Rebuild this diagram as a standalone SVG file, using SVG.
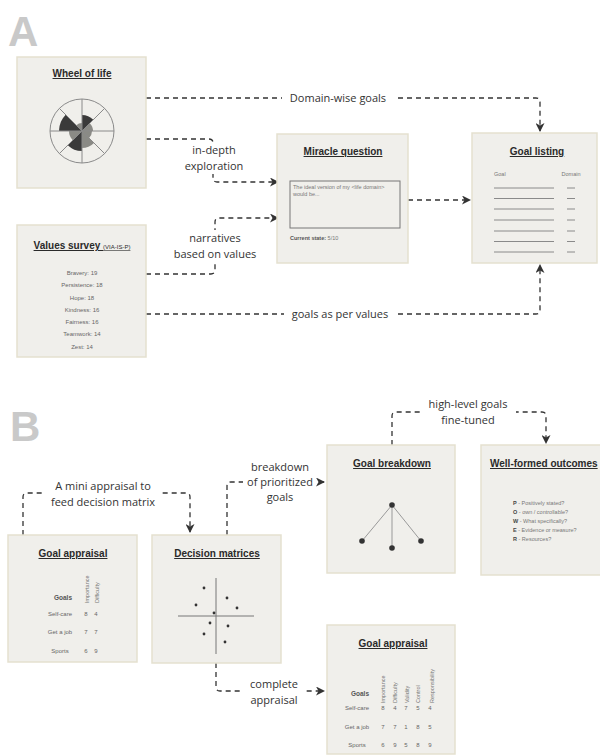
<svg xmlns="http://www.w3.org/2000/svg" width="600" height="755" viewBox="0 0 600 755">
<style>
.box{fill:#f0efeb;stroke:#e5e1cf;stroke-width:1.5}
.title{font-family:"Liberation Sans",Arial,sans-serif;font-weight:bold;font-size:10px;fill:#2a2a2a;text-decoration:underline}
.big{font-family:"Liberation Sans",Arial,sans-serif;font-weight:bold;font-size:42px;fill:#c9c9c9}
.lbl{font-family:"Open Sans","Noto Sans",sans-serif;font-size:11px;fill:#333;text-anchor:middle}
.sm{font-family:"Liberation Sans",Arial,sans-serif;font-size:5.5px;fill:#777}
.smb{font-family:"Liberation Sans",Arial,sans-serif;font-size:6.5px;font-weight:bold;fill:#555}
.val{font-family:"Liberation Sans",Arial,sans-serif;font-size:6px;fill:#666;text-anchor:middle}
.con{fill:none;stroke:#333;stroke-width:1.3;stroke-dasharray:5 4}
.bg{fill:#fff}
.dot{fill:#333}
.spoke{stroke:#8a8a8a;stroke-width:1;fill:none}
.gl{stroke:#8a8a8a;stroke-width:1}
</style>
<defs>
<marker id="arr" markerUnits="userSpaceOnUse" markerWidth="9" markerHeight="9" refX="8" refY="4.5" orient="auto">
<path d="M0,0 L9,4.5 L0,9 L2.5,4.5 z" fill="#333"/>
</marker>
</defs>
<rect width="600" height="755" fill="#fff"/>
<text class="big" x="8" y="46">A</text>
<text class="big" x="10" y="441">B</text>

<g id="connectors">
<path class="con" d="M146,98 H536 Q540,98 540,102 V131" marker-end="url(#arr)"/>
<rect class="bg" x="282" y="91" width="112" height="14"/>
<text class="lbl" x="338" y="102">Domain-wise goals</text>

<path class="con" d="M146,139 H209 Q213,139 213,143 V178 Q213,182 217,182 H278" marker-end="url(#arr)"/>
<rect class="bg" x="180" y="143" width="68" height="31"/>
<text class="lbl" x="214" y="154">in-depth</text>
<text class="lbl" x="214" y="170">exploration</text>

<path class="con" d="M146,274 H211 Q215,274 215,270 V222 Q215,218 219,218 H278" marker-end="url(#arr)"/>
<rect class="bg" x="170" y="230" width="90" height="31"/>
<text class="lbl" x="215" y="242">narratives</text>
<text class="lbl" x="215" y="258">based on values</text>

<path class="con" d="M146,314 H536 Q540,314 540,310 V265" marker-end="url(#arr)"/>
<rect class="bg" x="284" y="307" width="112" height="14"/>
<text class="lbl" x="340" y="318">goals as per values</text>

<path class="con" d="M408,200 H470" marker-end="url(#arr)"/>

<path class="con" d="M23,535 V497 Q23,493 27,493 H186 Q190,493 190,497 V532" marker-end="url(#arr)"/>
<rect class="bg" x="44" y="478" width="118" height="30"/>
<text class="lbl" x="103" y="490">A mini appraisal to</text>
<text class="lbl" x="103" y="506">feed decision matrix</text>

<path class="con" d="M227,535 V486 Q227,482 231,482 H324" marker-end="url(#arr)"/>
<rect class="bg" x="243" y="476" width="73" height="13"/>
<text class="lbl" x="280" y="471">breakdown</text>
<text class="lbl" x="280" y="486">of prioritized</text>
<text class="lbl" x="280" y="501">goals</text>

<path class="con" d="M392,445 V416 Q392,412 396,412 H542 Q546,412 546,416 V443" marker-end="url(#arr)"/>
<rect class="bg" x="420" y="399" width="96" height="29"/>
<text class="lbl" x="468" y="408">high-level goals</text>
<text class="lbl" x="468" y="424">fine-tuned</text>

<path class="con" d="M216,663 V687 Q216,691 220,691 H324" marker-end="url(#arr)"/>
<rect class="bg" x="242" y="677" width="64" height="30"/>
<text class="lbl" x="274" y="688">complete</text>
<text class="lbl" x="274" y="704">appraisal</text>
</g>

<g id="wheel-of-life">
<rect class="box" x="17" y="57" width="129" height="131"/>
<text class="title" x="82" y="77" text-anchor="middle">Wheel of life</text>
<g transform="translate(82,131)">
<path d="M0,0 L10,0 A10,10 0 0 1 7.07,7.07 Z" fill="#8a8a85"/>
<path d="M0,0 L12.02,12.02 A17,17 0 0 1 0,17 Z" fill="#8a8a85"/>
<path d="M0,0 L0,20 A20,20 0 0 1 -14.14,14.14 Z" fill="#3a3a3a"/>
<path d="M0,0 L-9.19,9.19 A13,13 0 0 1 -13,0 Z" fill="#8a8a85"/>
<path d="M0,0 L-23,0 A23,23 0 0 1 -16.26,-16.26 Z" fill="#3a3a3a"/>
<path d="M0,0 L-5.66,-5.66 A8,8 0 0 1 0,-8 Z" fill="#8a8a85"/>
<path d="M0,0 L0,-16 A16,16 0 0 1 11.31,-11.31 Z" fill="#3a3a3a"/>
<path d="M0,0 L7.78,-7.78 A11,11 0 0 1 11,0 Z" fill="#8a8a85"/>
<circle class="spoke" r="32"/>
<path class="spoke" d="M0,-32 V32 M-32,0 H32 M-22.6,-22.6 L22.6,22.6 M-22.6,22.6 L22.6,-22.6"/>
</g>
</g>

<g id="miracle-question">
<rect class="box" x="277" y="134" width="131" height="129"/>
<text class="title" x="343" y="155" text-anchor="middle">Miracle question</text>
<rect x="290" y="181" width="110" height="47" fill="none" stroke="#777" stroke-width="1"/>
<text class="sm" x="293" y="189">The ideal version of my &lt;life domain&gt;</text>
<text class="sm" x="293" y="195.5">would be...</text>
<text class="sm" x="290" y="240"><tspan font-weight="bold" fill="#555">Current state:</tspan> 5/10</text>
</g>

<g id="goal-listing">
<rect class="box" x="472" y="133" width="125" height="130"/>
<text class="title" x="537" y="155" text-anchor="middle" font-size="10.5">Goal listing</text>
<text class="sm" x="494" y="176" font-size="5">Goal</text>
<text class="sm" x="571" y="176" font-size="5" text-anchor="middle">Domain</text>
<path class="gl" d="M494,188 H554 M494,198.5 H554 M494,209 H554 M494,220 H554 M494,231 H554 M494,241.5 H554 M494,252 H554 M567,188 H575 M567,198.5 H575 M567,209 H575 M567,220 H575 M567,231 H575 M567,241.5 H575 M567,252 H575"/>
</g>

<g id="values-survey">
<rect class="box" x="17" y="225" width="129" height="132"/>
<text class="title" x="82" y="249" text-anchor="middle" font-size="10.5">Values survey <tspan font-size="6" font-weight="normal">(VIA-IS-P)</tspan></text>
<text class="val" x="82" y="275">Bravery: 19</text>
<text class="val" x="82" y="287">Persistence: 18</text>
<text class="val" x="82" y="299.5">Hope: 18</text>
<text class="val" x="82" y="311.5">Kindness: 16</text>
<text class="val" x="82" y="323.5">Fairness: 16</text>
<text class="val" x="82" y="335.5">Teamwork: 14</text>
<text class="val" x="82" y="349">Zest: 14</text>
</g>

<g id="goal-appraisal-mini">
<rect class="box" x="8" y="535" width="129" height="127"/>
<text class="title" x="73" y="557" text-anchor="middle">Goal appraisal</text>
<text class="smb" x="63" y="600" text-anchor="middle">Goals</text>
<text class="sm" transform="translate(89,603) rotate(-90)">Importance</text>
<text class="sm" transform="translate(99,603) rotate(-90)">Difficulty</text>
<text class="val" x="60" y="616" font-size="5.5" fill="#888">Self-care</text>
<text class="val" x="86" y="616" font-size="5.5" fill="#888">8</text>
<text class="val" x="96" y="616" font-size="5.5" fill="#888">4</text>
<text class="val" x="60" y="634" font-size="5.5" fill="#888">Get a job</text>
<text class="val" x="86" y="634" font-size="5.5" fill="#888">7</text>
<text class="val" x="96" y="634" font-size="5.5" fill="#888">7</text>
<text class="val" x="60" y="653" font-size="5.5" fill="#888">Sports</text>
<text class="val" x="86" y="653" font-size="5.5" fill="#888">6</text>
<text class="val" x="96" y="653" font-size="5.5" fill="#888">9</text>
</g>

<g id="decision-matrices">
<rect class="box" x="152" y="535" width="129" height="128"/>
<text class="title" x="217" y="557" text-anchor="middle">Decision matrices</text>
<path d="M178,616 H254 M216,578 V654" stroke="#777" stroke-width="1"/>
<circle class="dot" cx="204" cy="588" r="1.4"/>
<circle class="dot" cx="227" cy="598" r="1.4"/>
<circle class="dot" cx="196" cy="605" r="1.4"/>
<circle class="dot" cx="237" cy="608" r="1.4"/>
<circle class="dot" cx="214" cy="613" r="1.4"/>
<circle class="dot" cx="210" cy="623" r="1.4"/>
<circle class="dot" cx="228" cy="626" r="1.4"/>
<circle class="dot" cx="204" cy="634" r="1.4"/>
<circle class="dot" cx="225" cy="642" r="1.4"/>
</g>

<g id="goal-breakdown">
<rect class="box" x="327" y="445" width="128" height="128"/>
<text class="title" x="392" y="467" text-anchor="middle">Goal breakdown</text>
<path d="M392,505 L362,541 M392,505 V548 M392,505 L421,541" stroke="#999" stroke-width="1"/>
<circle class="dot" cx="392" cy="505" r="2.8"/>
<circle class="dot" cx="362" cy="541" r="2.8"/>
<circle class="dot" cx="392" cy="548" r="2.8"/>
<circle class="dot" cx="421" cy="541" r="2.8"/>
</g>

<g id="well-formed-outcomes">
<rect class="box" x="481" y="445" width="125" height="130"/>
<text class="title" x="490" y="467" font-size="10.5">Well-formed outcomes</text>
<text class="sm" x="513" y="505"><tspan font-weight="bold" fill="#444">P</tspan> - Positively stated?</text>
<text class="sm" x="513" y="514"><tspan font-weight="bold" fill="#444">O</tspan> - own / controllable?</text>
<text class="sm" x="513" y="523"><tspan font-weight="bold" fill="#444">W</tspan> - What specifically?</text>
<text class="sm" x="513" y="532"><tspan font-weight="bold" fill="#444">E</tspan> - Evidence or measure?</text>
<text class="sm" x="513" y="541"><tspan font-weight="bold" fill="#444">R</tspan> - Resources?</text>
</g>

<g id="goal-appraisal-full">
<rect class="box" x="327" y="625" width="128" height="129"/>
<text class="title" x="393" y="647" text-anchor="middle">Goal appraisal</text>
<text class="smb" x="360" y="696" text-anchor="middle">Goals</text>
<text class="sm" transform="translate(385,703) rotate(-90)">Importance</text>
<text class="sm" transform="translate(397,703) rotate(-90)">Difficulty</text>
<text class="sm" transform="translate(409,703) rotate(-90)">Validity</text>
<text class="sm" transform="translate(420,703) rotate(-90)">Control</text>
<text class="sm" transform="translate(434,703) rotate(-90)">Responsibility</text>
<g class="val" font-size="5.5" fill="#888">
<text x="357" y="710">Self-care</text><text x="383" y="710">8</text><text x="395" y="710">4</text><text x="406" y="710">7</text><text x="418" y="710">5</text><text x="430" y="710">4</text>
<text x="357" y="729">Get a job</text><text x="383" y="729">7</text><text x="395" y="729">7</text><text x="406" y="729">1</text><text x="418" y="729">8</text><text x="430" y="729">5</text>
<text x="357" y="747">Sports</text><text x="383" y="747">6</text><text x="395" y="747">9</text><text x="406" y="747">5</text><text x="418" y="747">8</text><text x="430" y="747">9</text>
</g>
</g>
</svg>
